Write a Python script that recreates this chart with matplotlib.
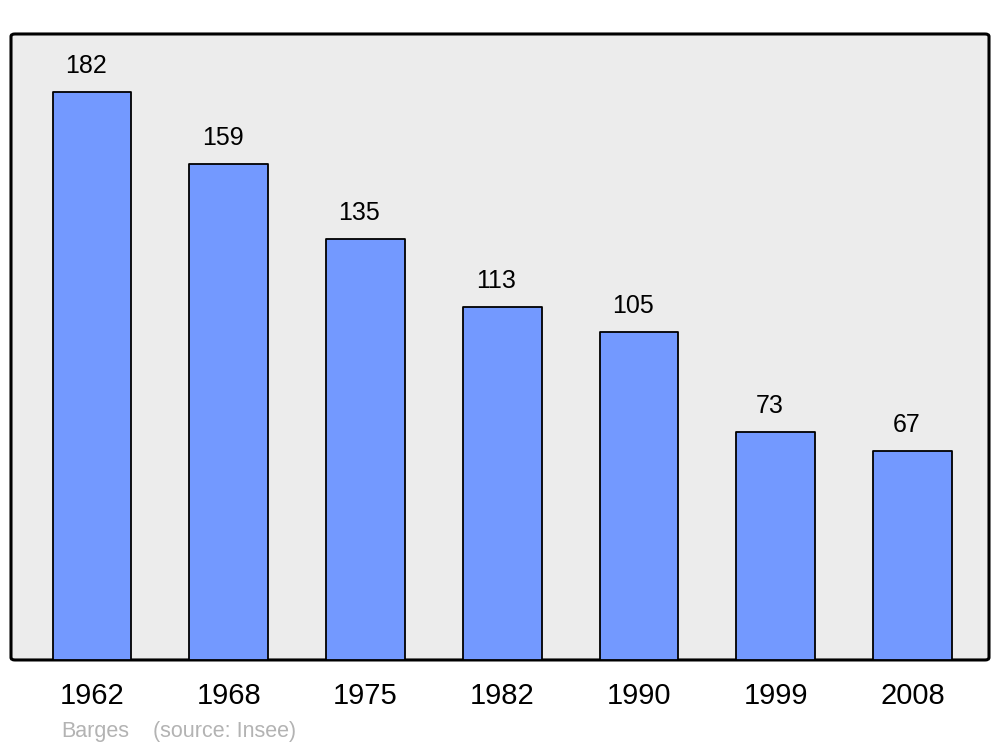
import matplotlib.pyplot as plt
from matplotlib.patches import FancyBboxPatch

years = ['1962', '1968', '1975', '1982', '1990', '1999', '2008']
population = [182, 159, 135, 113, 105, 73, 67]

plt.rcParams['font.family'] = ['Liberation Sans', 'DejaVu Sans']

fig = plt.figure(figsize=(10, 7.47), dpi=100)
ax = fig.add_axes([0.011, 0.1165, 0.978, 0.838])
ax.set_facecolor('none')

# rounded frame of the plot area
frame = FancyBboxPatch((0, 0), 1, 1, boxstyle='round,pad=0,rounding_size=0.004',
                       transform=ax.transAxes, facecolor='#ececec',
                       edgecolor='black', linewidth=2.2, zorder=0, clip_on=False)
ax.add_patch(frame)

x = range(len(years))
bars = ax.bar(x, population, width=0.575, color='#7399ff', edgecolor='black',
              linewidth=1.3, zorder=2)
for b in bars:
    b.set_joinstyle('round')

for i, v in zip(x, population):
    ax.annotate(str(v), (i, v), xytext=(-6, 19), textcoords='offset pixels',
                ha='center', va='baseline', fontsize=18)

ax.set_xlim(-0.592, 6.559)
ax.set_ylim(0, 200.6)
ax.set_xticks(list(x))
ax.set_xticklabels(years, fontsize=21)
ax.tick_params(axis='x', length=0, pad=16)
ax.set_yticks([])
for s in ax.spines.values():
    s.set_visible(False)

fig.text(0.061, 0.0134, 'Barges', color='#b3b3b3', fontsize=15.5)
fig.text(0.153, 0.0134, '(source: Insee)', color='#b3b3b3', fontsize=15.5)

fig.savefig('out.png', dpi=100)
